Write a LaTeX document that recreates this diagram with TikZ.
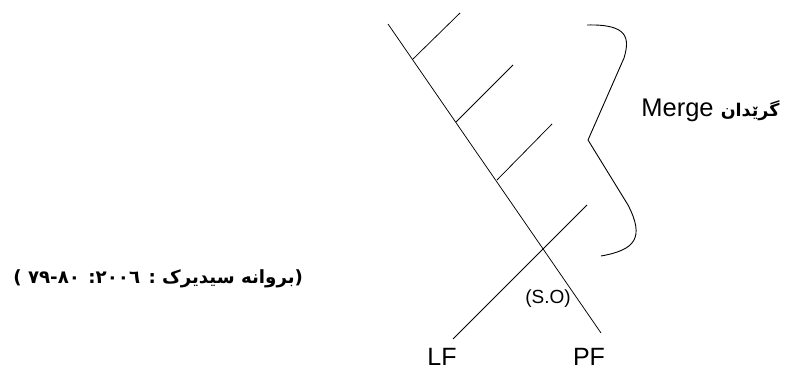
\documentclass[tikz,border=0pt]{standalone}
\usepackage{fontspec}
\setmainfont{Liberation Sans}
\newfontfamily\arabicfont[Script=Arabic]{DejaVu Sans}
\TeXXeTstate=1
\usetikzlibrary{positioning}
\tikzset{
  every picture/.style={line width=0.75pt},
  stroke/.style={draw=black, line width=0.75pt},
  brace/.style={draw=black, line width=0.9pt},
  leaf/.style={font=\fontsize{25}{27}\selectfont, inner sep=0pt, anchor=base},
  note/.style={font=\fontsize{25.5}{27}\selectfont, inner sep=0pt, anchor=base west},
  cite/.style={font=\arabicfont\bfseries\fontsize{18.2}{20}\selectfont, inner sep=0pt, anchor=base west},
}

\begin{document}
\begin{tikzpicture}[x=1pt, y=-1pt]
  \useasboundingbox (0,0) rectangle (794,371);
  % spine from top down to PF
  \coordinate (top) at (388,24);
  \coordinate (pfend) at (601,333);
  \coordinate (lfend) at (453,339);
  \coordinate (lftip) at (587,205);
  \coordinate (b1) at (413,59);
  \coordinate (b2) at (456,122);
  \coordinate (b3) at (497,180);
  \coordinate (t1) at (460,13);
  \coordinate (t2) at (513,65);
  \coordinate (t3) at (552,124);
  \draw[stroke] (top) -- (pfend);
  \foreach \a/\b in {b1/t1, b2/t2, b3/t3}
    \draw[stroke] (\a) -- (\b);
  \draw[stroke] (lfend) -- (lftip);
  \node[leaf] (lf) at (442,365) {LF};
  \node[leaf] (pf) at (589,365) {PF};
  \node[font=\fontsize{19}{21}\selectfont, inner sep=0pt] (so) at (548,299) {(S.O)};
  % the brace on the right
  \coordinate (brtop) at (587,25);
  \coordinate (brmid) at (588,140);
  \coordinate (brbot) at (601,256);
  \draw[brace] (brtop) .. controls (628,24) and (630,38) .. (624,58)
    -- (brmid) -- (628,205) .. controls (645,238) and (635,250) .. (brbot);
  \node[note] (merge) at (641,117) {Merge {\arabicfont\bfseries\fontsize{17.5}{19}\selectfont\beginR گرێدان\endR}};
  \node[cite] (src) at (13,283) {\beginR(بروانه سیدیرک : ٢٠٠٦: ٨٠-٧٩ )\endR};
\end{tikzpicture}
\end{document}
